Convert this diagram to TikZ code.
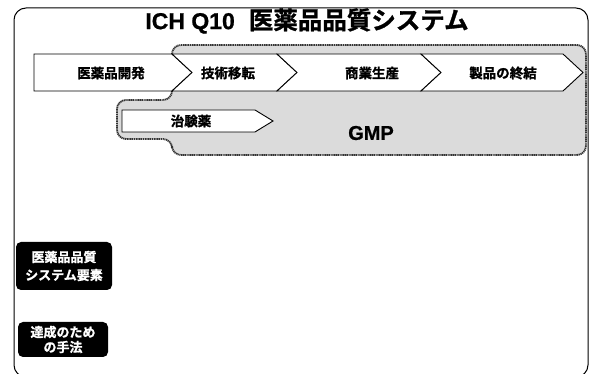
\documentclass[tikz,border=0pt]{standalone}
\usepackage{fontspec}
\newfontfamily\jp{Noto Sans CJK JP Bold}[FakeBold=1.2]
\newfontfamily\lat{Liberation Sans Bold}[FakeBold=0.8]
\begin{document}
\begin{tikzpicture}[x=1pt,y=-1pt,
  frame/.style={draw=black, line width=1pt, rounded corners=12},
  gmpzone/.style={fill=black!14, draw=black!80, line width=1.8pt, dash pattern=on 1.2pt off 0.6pt, rounded corners=9},
  chev/.style={fill=white, draw=black, line width=0.9pt},
  lbl/.style={font=\jp\fontsize{13.5}{15}\selectfont, inner sep=0pt},
  blk/.style={fill=black, rounded corners=5, text=white, align=center, inner sep=0pt, font=\jp\fontsize{13}{18}\selectfont}]
\useasboundingbox (0,0) rectangle (590,374);
% outer frame
\draw[frame] (14,8) rectangle (588,377);
% title
\node[inner sep=0pt] (title) at (307,21) {{\lat\fontsize{23}{25}\selectfont ICH Q10}\hspace{14pt}{\jp\fontsize{24.5}{27}\selectfont 医薬品品質システム}};
% GMP zone
\path[gmpzone] (172,45) -- (586,45) -- (586,155) -- (172,155) -- (172,139) -- (117,139) -- (117,100) -- (172,100) -- cycle;
% chevrons
\draw[chev] (34,54) -- (172,54) -- (192,72.5) -- (172,91) -- (34,91) -- cycle;
\draw[chev] (172,54) -- (277,54) -- (297,72.5) -- (277,91) -- (172,91) -- (192,72.5) -- cycle;
\draw[chev] (277,54) -- (421,54) -- (441,72.5) -- (421,91) -- (277,91) -- (297,72.5) -- cycle;
\draw[chev] (421,54) -- (563,54) -- (583,72.5) -- (563,91) -- (421,91) -- (441,72.5) -- cycle;
\draw[chev] (122,110) -- (255,110) -- (273,121) -- (255,132) -- (122,132) -- cycle;
% labels
\node[lbl] (dev) at (111,73) {医薬品開発};
\node[lbl] (tt) at (228,73) {技術移転};
\node[lbl] (cm) at (372,73) {商業生産};
\node[lbl] (disc) at (503,73) {製品の終結};
\node[lbl] (inv) at (191,121) {治験薬};
\node[inner sep=0pt, font=\lat\fontsize{20}{22}\selectfont] (gmp) at (371,133) {GMP};
% black boxes
\node[blk, minimum width=96pt, minimum height=48pt] (pqs) at (64,266) {医薬品品質\\システム要素};
\node[blk, minimum width=90pt, minimum height=35pt, font=\jp\fontsize{13}{15}\selectfont] (tools) at (63,339.5) {達成のため\\の手法};
\end{tikzpicture}
\end{document}
